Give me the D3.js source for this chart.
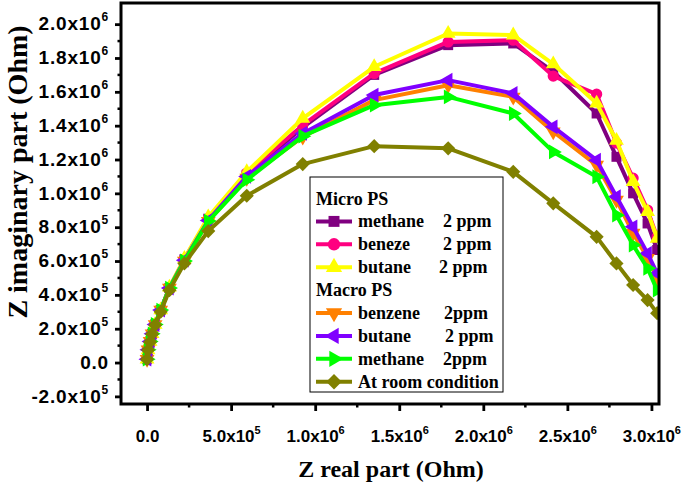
<!DOCTYPE html>
<html>
<head>
<meta charset="utf-8">
<script src="https://cdn.jsdelivr.net/npm/d3@7"></script>
<style>
  html, body { margin: 0; padding: 0; background: #fff; }
  svg { display: block; }
</style>
</head>
<body>
<svg id="chart" width="685" height="485"></svg>
<script>
// ---------- DATA ----------
const zReal = [0, 0.006e6, 0.018e6, 0.030e6, 0.048e6, 0.081e6, 0.133e6, 0.222e6, 0.364e6, 0.593e6,
               0.926e6, 1.351e6, 1.791e6, 2.178e6, 2.416e6, 2.674e6, 2.792e6, 2.891e6, 2.977e6, 3.034e6];

const microMethane = [0.02, 0.075, 0.125, 0.17, 0.225, 0.31, 0.44, 0.61, 0.85, 1.11,
                      1.39, 1.70, 1.876, 1.886, 1.72, 1.472, 1.216, 1.00, 0.822, 0.665].map(v => v * 1e6);
const microBenzene = [0.02, 0.075, 0.125, 0.17, 0.225, 0.31, 0.44, 0.61, 0.85, 1.12,
                      1.403, 1.709, 1.895, 1.905, 1.693, 1.586, 1.297, 1.09, 0.901, 0.742].map(v => v * 1e6);
const microButane  = [0.02, 0.075, 0.125, 0.17, 0.225, 0.31, 0.445, 0.615, 0.86, 1.127,
                      1.443, 1.748, 1.945, 1.935, 1.764, 1.532, 1.312, 1.068, 0.891, 0.734].map(v => v * 1e6);
const macroBenzene = [0.02, 0.075, 0.125, 0.17, 0.225, 0.31, 0.44, 0.60, 0.835, 1.09,
                      1.334, 1.551, 1.639, 1.570, 1.364, 1.167, 0.960, 0.765, 0.617, 0.499].map(v => v * 1e6);
const macroButane  = [0.02, 0.075, 0.125, 0.17, 0.225, 0.31, 0.44, 0.605, 0.84, 1.10,
                      1.354, 1.581, 1.669, 1.591, 1.393, 1.196, 0.980, 0.802, 0.645, 0.527].map(v => v * 1e6);
const macroMethane = [0.02, 0.075, 0.125, 0.17, 0.225, 0.31, 0.44, 0.60, 0.836, 1.08,
                      1.338, 1.521, 1.570, 1.472, 1.245, 1.098, 0.871, 0.694, 0.557, 0.428].map(v => v * 1e6);
const roomCondition = [0.02, 0.074, 0.121, 0.168, 0.222, 0.300, 0.428, 0.586, 0.777, 0.986,
                       1.173, 1.279, 1.266, 1.127, 0.941, 0.743, 0.586, 0.458, 0.369, 0.292].map(v => v * 1e6);

const seriesNames = ["methane", "beneze", "butane", "benzene", "butane", "methane", "At room condition"];
const seriesConc  = ["2 ppm", "2 ppm", "2 ppm", "2ppm", "2 ppm", "2ppm", ""];
const groupTitles = ["Micro PS", "Macro PS"];

const xTicks = [0, 5e5, 1e6, 1.5e6, 2e6, 2.5e6, 3e6];
const yTicks = [-2e5, 0, 2e5, 4e5, 6e5, 8e5, 1e6, 1.2e6, 1.4e6, 1.6e6, 1.8e6, 2e6];

// ---------- STYLE ----------
const seriesValues = [microMethane, microBenzene, microButane, macroBenzene, macroButane, macroMethane, roomCondition];
const colors = ["#800080", "#FF0080", "#FFFF00", "#FF8000", "#8000FF", "#00FF00", "#808000"];
const markers = [
  {type: d3.symbolSquare, size: 100, rot: 0},
  {type: d3.symbolCircle, size: 100, rot: 0},
  {type: d3.symbolTriangle, size: 95, rot: 0},
  {type: d3.symbolTriangle, size: 95, rot: 180},
  {type: d3.symbolTriangle, size: 95, rot: -90},
  {type: d3.symbolTriangle, size: 95, rot: 90},
  {type: d3.symbolSquare, size: 100, rot: 45}
];

const svg = d3.select("#chart");
const L = 121, R = 659, T = 3, B = 404;
const x = d3.scaleLinear().domain([-1.55e5, 3.045e6]).range([L, R]);
const y = d3.scaleLinear().domain([-2.45e5, 2.125e6]).range([B, T]);

const tickFont = "'Liberation Sans', Arial, sans-serif";
const serif = "'Liberation Serif', 'Times New Roman', serif";

function sciLabel(supSize, supDy) {
  return function(sel) {
    sel.each(function(d) {
      const t = d3.select(this);
      t.text(null);
      if (d === 0) { t.append("tspan").text("0.0"); return; }
      const e = Math.floor(Math.log10(Math.abs(d)) + 1e-9);
      const m = d / Math.pow(10, e);
      t.append("tspan").text(m.toFixed(1) + "x10");
      t.append("tspan").attr("font-size", supSize).attr("dy", supDy).text(e);
    });
  };
}

// minor ticks
const xMinor = d3.range(2.5e5, 3.01e6, 5e5);
const yMinor = d3.range(-1e5, 2.05e6, 2e5);

svg.append("g").selectAll("line").data(xMinor).join("line")
  .attr("x1", d => x(d)).attr("x2", d => x(d)).attr("y1", B).attr("y2", B + 3.5)
  .attr("stroke", "#000").attr("stroke-width", 2.5);
svg.append("g").selectAll("line").data(yMinor).join("line")
  .attr("y1", d => y(d)).attr("y2", d => y(d)).attr("x1", L).attr("x2", L - 3.5)
  .attr("stroke", "#000").attr("stroke-width", 2.5);

// axes
const xAxis = svg.append("g").attr("transform", `translate(0,${B})`)
  .call(d3.axisBottom(x).tickValues(xTicks).tickSize(7).tickPadding(12).tickFormat(() => ""));
xAxis.select(".domain").remove();
xAxis.selectAll(".tick line").attr("stroke-width", 2.8);
xAxis.selectAll(".tick text").attr("font-family", tickFont).attr("font-weight", "bold")
  .attr("font-size", 17).attr("fill", "#000").attr("dy", "1.1em").call(sciLabel(11, -8));

const yAxis = svg.append("g").attr("transform", `translate(${L},0)`)
  .call(d3.axisLeft(y).tickValues(yTicks).tickSize(6).tickPadding(6).tickFormat(() => ""));
yAxis.select(".domain").remove();
yAxis.selectAll(".tick line").attr("stroke-width", 2.8);
yAxis.selectAll(".tick text").attr("font-family", tickFont).attr("font-weight", "bold")
  .attr("font-size", 19).attr("letter-spacing", 0.8).attr("fill", "#000").attr("dy", "0.3em")
  .call(sciLabel(12, -9));

// clip
svg.append("clipPath").attr("id", "plotclip").append("rect")
  .attr("x", L).attr("y", T).attr("width", R - L - 1).attr("height", B - T);

const plot = svg.append("g").attr("clip-path", "url(#plotclip)");
const line = d3.line().x((d, i) => x(zReal[i])).y(d => y(d));

seriesValues.forEach((vals, si) => {
  const g = plot.append("g");
  g.append("path").datum(vals).attr("d", line)
    .attr("fill", "none").attr("stroke", colors[si]).attr("stroke-width", 4).attr("stroke-linejoin", "round");
  const mk = markers[si];
  g.selectAll("path.m").data(vals).join("path").attr("class", "m")
    .attr("d", d3.symbol().type(mk.type).size(mk.size))
    .attr("transform", (d, i) => `translate(${x(zReal[i])},${y(d)}) rotate(${mk.rot})`)
    .attr("fill", colors[si]);
});

// frame
svg.append("rect").attr("x", L).attr("y", T).attr("width", R - L).attr("height", B - T)
  .attr("fill", "none").attr("stroke", "#000").attr("stroke-width", 3);

// axis titles
svg.append("text").attr("x", 391).attr("y", 477).attr("text-anchor", "middle")
  .attr("font-family", serif).attr("font-weight", "bold").attr("font-size", 24).attr("fill", "#000")
  .text("Z real part (Ohm)");
svg.append("text").attr("transform", "translate(27,172) rotate(-90)").attr("text-anchor", "middle")
  .attr("font-family", serif).attr("font-weight", "bold").attr("font-size", 28).attr("fill", "#000")
  .text("Z imaginary part (Ohm)");

// legend
const lg = svg.append("g");
lg.append("rect").attr("x", 310).attr("y", 177).attr("width", 193).attr("height", 215)
  .attr("fill", "#fff").attr("stroke", "#000").attr("stroke-width", 1);
const rowY = i => 198.5 + i * 22.9;
const concX = [443, 443, 439, 444, 445, 443, 0];
const legendRows = [
  {title: groupTitles[0]}, {s: 0}, {s: 1}, {s: 2},
  {title: groupTitles[1]}, {s: 3}, {s: 4}, {s: 5}, {s: 6}
];
legendRows.forEach((r, i) => {
  const cy = rowY(i);
  if (r.title !== undefined) {
    lg.append("text").attr("x", 316).attr("y", cy + 6).attr("font-family", serif).attr("font-weight", "bold")
      .attr("font-size", 18).attr("fill", "#000").text(r.title);
    return;
  }
  const si = r.s, mk = markers[si];
  lg.append("line").attr("x1", 316).attr("x2", 352).attr("y1", cy).attr("y2", cy)
    .attr("stroke", colors[si]).attr("stroke-width", 4);
  lg.append("path").attr("d", d3.symbol().type(mk.type).size(mk.size * 1.2)())
    .attr("transform", `translate(334,${cy}) rotate(${mk.rot})`).attr("fill", colors[si]);
  const t = lg.append("text").attr("x", 358).attr("y", cy + 6).attr("font-family", serif).attr("font-weight", "bold")
    .attr("font-size", 18).attr("fill", "#000");
  t.append("tspan").text(seriesNames[si]);
  if (seriesConc[si]) t.append("tspan").attr("x", concX[si]).text(seriesConc[si]);
});
</script>
</body>
</html>
